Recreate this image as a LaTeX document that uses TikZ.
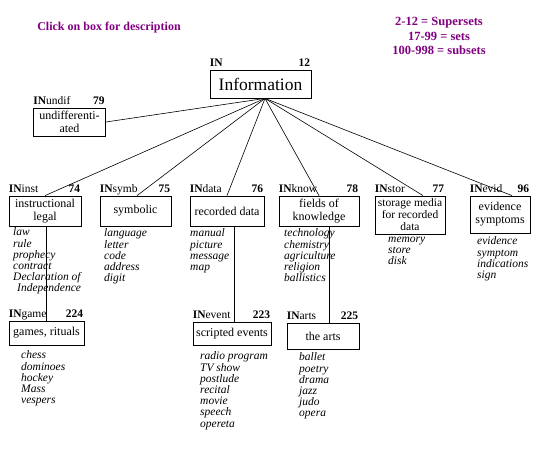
\documentclass[tikz,border=0pt]{standalone}
\usepackage{fontspec}
\setmainfont{Liberation Serif}
\usepackage{tikz}
\usepackage{xcolor}

\definecolor{legendpurple}{RGB}{128,0,128}

\tikzset{
  setbox/.style={draw, line width=0.8pt, inner sep=1pt, align=center,
    font=\fontsize{12}{13}\selectfont},
  items/.style={anchor=north west, inner sep=0pt, align=left,
    execute at begin node=\strut, font=\fontsize{11.5}{11.2}\selectfont\itshape},
  settag/.style={anchor=base west, inner sep=0pt, font=\fontsize{11.5}{12}\selectfont},
  setnum/.style={anchor=base east, inner sep=0pt, font=\fontsize{11.5}{12}\selectfont\bfseries},
  link/.style={line width=0.6pt}
}

% tag and number above a box
\newcommand{\boxlabels}[3]{%
  \node[settag] (#1-tag) at ([yshift=3pt]#1.north west) {\textbf{IN}#2};
  \node[setnum] (#1-num) at ([xshift=-1pt,yshift=3pt]#1.north east) {#3};
}

\begin{document}
\begin{tikzpicture}[x=1pt, y=-1pt]
  \useasboundingbox (0,0) rectangle (537,451);

  % heading and legend
  \node[legendpurple, font=\fontsize{12}{13}\selectfont\bfseries] (click) at (109,28) {Click on box for description};
  \node[legendpurple, align=center, font=\fontsize{12.5}{14.5}\selectfont\bfseries] (legend) at (439,36)
    {2-12 = Supersets\\17-99 = sets\\100-998 = subsets};

  % top
  \node[setbox, minimum width=101pt, minimum height=28pt, font=\fontsize{17.5}{20}\selectfont] (info) at (260.5,84) {Information};
  \boxlabels{info}{}{12}
  \coordinate (hub) at ([xshift=4.5pt]info.south);

  \node[setbox, minimum width=72pt, minimum height=28pt] (undif) at (69.5,122) {undifferenti-\\ated};
  \boxlabels{undif}{undif}{79}

  % sets
  \node[setbox, minimum width=72pt, minimum height=30pt] (inst) at (45,211) {instructional\\legal};
  \node[setbox, minimum width=71pt, minimum height=30pt] (symb) at (135.5,211) {symbolic};
  \node[setbox, minimum width=74pt, minimum height=30pt] (data) at (227,211) {recorded data};
  \node[setbox, minimum width=80pt, minimum height=30pt] (know) at (319,211) {fields of\\knowledge};
  \node[setbox, minimum width=70pt, minimum height=38pt, inner sep=0pt,
    font=\fontsize{11.5}{12}\selectfont] (stor) at (410,215) {storage media\\for recorded\\data};
  \node[setbox, minimum width=60pt, minimum height=37pt] (evid) at (500,214.5) {evidence\\symptoms};
  \boxlabels{inst}{inst}{74}
  \boxlabels{symb}{symb}{75}
  \boxlabels{data}{data}{76}
  \boxlabels{know}{know}{78}
  \boxlabels{stor}{stor}{77}
  \boxlabels{evid}{evid}{96}

  % subsets
  \node[setbox, minimum width=75pt, minimum height=24pt] (game) at (46.5,333) {games, rituals};
  \node[setbox, minimum width=78pt, minimum height=23pt] (event) at (232,333.5) {scripted events};
  \node[setbox, minimum width=72pt, minimum height=26pt] (arts) at (323,336) {the arts};
  \boxlabels{game}{game}{224}
  \boxlabels{event}{event}{223}
  \boxlabels{arts}{arts}{225}

  % connectors
  \draw[link] (hub) -- (undif.east);
  \draw[link] (hub) -- (inst.north);
  \draw[link] (hub) -- ([xshift=1.5pt]symb.north);
  \draw[link] (hub) -- (data.north);
  \draw[link] (hub) -- (know.north);
  \draw[link] (hub) -- ([xshift=13pt]stor.north);
  \draw[link] (hub) -- ([xshift=12pt]evid.north);
  \draw[link] ([xshift=1.5pt]inst.south) -- ([xshift=1.5pt]inst.south |- game.north);
  \draw[link] ([xshift=7pt]data.south) -- ([xshift=7pt]data.south |- event.north);
  \draw[link] ([xshift=10pt]know.south) -- ([xshift=10pt]know.south |- arts.north);

  % examples
  \node[items] (inst-items) at (13,227.7) {law\\rule\\prophecy\\contract\\Declaration of\\\hspace*{4pt}Independence};
  \node[items] (symb-items) at (104,228.7) {language\\letter\\code\\address\\digit};
  \node[items] (data-items) at (190,228.7) {manual\\picture\\message\\map};
  \node[items] (know-items) at (284,228.7) {technology\\chemistry\\agriculture\\religion\\ballistics};
  \node[items] (stor-items) at (388,236.7) {memory\\store\\disk};
  \node[items] (evid-items) at (477,236.7) {evidence\\symptom\\indications\\sign};
  \node[items] (game-items) at (21,350.7) {chess\\dominoes\\hockey\\Mass\\vespers};
  \node[items] (event-items) at (200,351.7) {radio program\\TV show\\postlude\\recital\\movie\\speech\\opereta};
  \node[items] (arts-items) at (299,352.7) {ballet\\poetry\\drama\\jazz\\judo\\opera};
\end{tikzpicture}
\end{document}
